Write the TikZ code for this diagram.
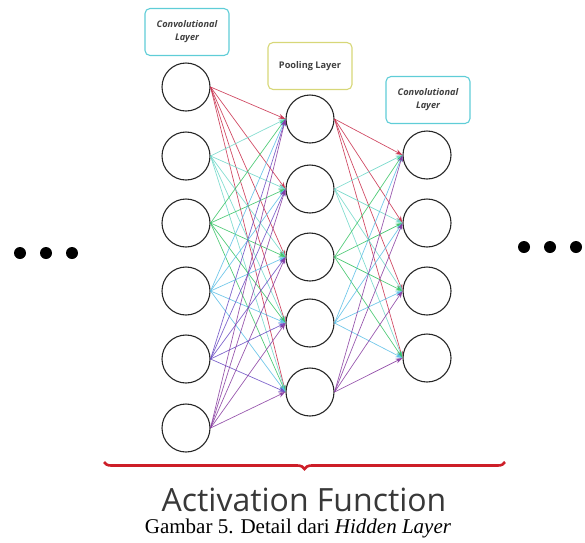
\documentclass[tikz,border=0pt]{standalone}
\usepackage{fontspec}
\setmainfont{Liberation Serif}
\setsansfont{Open Sans}
\usepackage{tikz}
\usetikzlibrary{arrows,arrows.meta}
\usetikzlibrary{positioning}
\usetikzlibrary{decorations.pathreplacing}

\definecolor{cRed}{RGB}{200,45,75}
\definecolor{cTeal}{RGB}{110,215,200}
\definecolor{cGreen}{RGB}{55,195,100}
\definecolor{cSky}{RGB}{90,190,230}
\definecolor{cBlue}{RGB}{105,75,195}
\definecolor{cViolet}{RGB}{135,60,160}
\definecolor{boxCyan}{RGB}{95,205,215}
\definecolor{boxOlive}{RGB}{215,215,120}
\definecolor{braceRed}{RGB}{205,30,40}

\begin{document}
\begin{tikzpicture}
			[x=1pt,y=-1pt,
			neuron/.style={circle,draw=black!85,line width=1.1pt,minimum size=48pt,inner sep=0pt},
			layerbox/.style={rounded corners=5pt,line width=1.1pt,minimum width=84pt,minimum height=47pt,align=center,text=black!75,font=\sffamily\bfseries\itshape\fontsize{9.2}{13}\selectfont},
			link/.style={-{Stealth[length=7pt,width=5pt]},line width=0.7pt,opacity=0.85},
			dot/.style={circle,fill=black,inner sep=0pt,minimum size=12pt}]
			\useasboundingbox (0,0) rectangle (585,542);
			
			% layer boxes
			\node[layerbox,draw=boxCyan] (b1) at (187,32) {Convolutional\\Layer};
			\node[layerbox,draw=boxOlive,font=\sffamily\bfseries\fontsize{9.2}{13}\selectfont] (b2) at (310,66) {Pooling Layer};
			\node[layerbox,draw=boxCyan] (b3) at (428,100) {Convolutional\\Layer};
			
			% first convolutional layer
			\node[neuron] (c1) at (186,87) {};
			\node[neuron] (c2) at (186,156) {};
			\node[neuron] (c3) at (186,223) {};
			\node[neuron] (c4) at (186,291) {};
			\node[neuron] (c5) at (186,359) {};
			\node[neuron] (c6) at (186,428) {};
			
			% pooling layer
			\node[neuron] (p1) at (310,119) {};
			\node[neuron] (p2) at (310,189) {};
			\node[neuron] (p3) at (310,257) {};
			\node[neuron] (p4) at (310,323) {};
			\node[neuron] (p5) at (310,392) {};
			
			% second convolutional layer
			\node[neuron] (k1) at (427,155) {};
			\node[neuron] (k2) at (427,223) {};
			\node[neuron] (k3) at (427,291) {};
			\node[neuron] (k4) at (427,358) {};
			
			\foreach \i/\c in {1/cRed,2/cTeal,3/cGreen,4/cSky,5/cBlue,6/cViolet}
			\foreach \j in {1,...,5}
			\draw[link,\c] (c\i.east) -- (p\j.west);
			
			\foreach \i/\c in {1/cRed,2/cTeal,3/cGreen,4/cSky,5/cViolet}
			\foreach \j in {1,...,4}
			\draw[link,\c] (p\i.east) -- (k\j.west);
			
			% dots
			\node[dot] (l1) at (20,253) {};
			\node[dot] (l2) at (46,253) {};
			\node[dot] (l3) at (72,253) {};
			\node[dot] (r1) at (524,247) {};
			\node[dot] (r2) at (550,247) {};
			\node[dot] (r3) at (576,247) {};
			
			% brace
			\coordinate (braceL) at (104,462);
			\coordinate (braceR) at (505,462);
			\draw[braceRed,line width=2.6pt,decorate,decoration={brace,mirror,amplitude=7pt}] (braceL) -- (braceR);
			
			\node[inner sep=0pt,anchor=base,font=\sffamily\fontsize{32}{34}\selectfont,text=black!78] (act) at (304,511) {Activation Function};
			\node[inner sep=0pt,anchor=base,font=\fontsize{21}{23}\selectfont] (cap) at (298,533) {Gambar 5. Detail dari \textit{Hidden Layer}};
			\end{tikzpicture}
\end{document}
